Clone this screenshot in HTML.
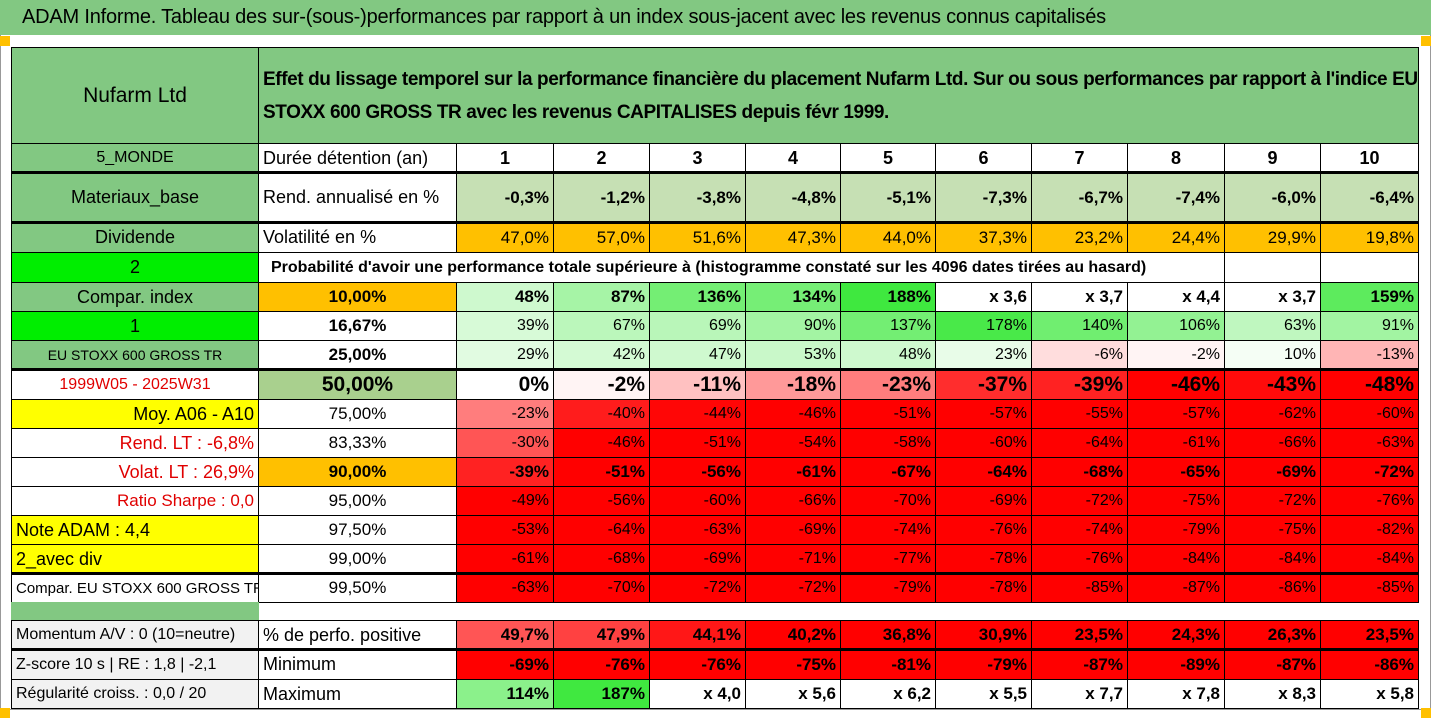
<!DOCTYPE html>
<html><head><meta charset="utf-8">
<style>
body{margin:0;width:1431px;height:718px;background:#fff;overflow:hidden;font-family:"Liberation Sans Narrow","Liberation Sans",sans-serif;position:relative}
#frame{position:absolute;left:0;top:0;width:1429px;height:709px;border:1px solid #999;border-top:none}
#title{position:absolute;left:0;top:0;width:1431px;height:35px;background:#82c882;font-size:20px;line-height:35px;padding-left:22px;box-sizing:border-box;color:#000;letter-spacing:-0.2px}
.c{position:absolute;box-sizing:border-box;border:1px solid #000;margin:0;overflow:hidden;white-space:nowrap;color:#000;display:flex;align-items:center}
.r{justify-content:flex-end;padding-right:4px}
.m{justify-content:center}
.l{justify-content:flex-start;padding-left:4px}
.b{font-weight:bold}
.sq{position:absolute;width:10px;height:10px;background:#ffc000}
</style></head><body>
<div id="frame"></div>
<div id="title">ADAM Informe. Tableau des sur-(sous-)performances par rapport à un index sous-jacent avec les revenus connus capitalisés</div>
<div class="sq" style="left:0;top:36px"></div>
<div class="sq" style="left:1421px;top:36px"></div>
<div class="sq" style="left:0;top:708px"></div>
<div class="sq" style="left:1421px;top:708px"></div>
<div id="grid"></div>
<script>
const years=["1","2","3","4","5","6","7","8","9","10"];
const rendAnn=["-0,3%","-1,2%","-3,8%","-4,8%","-5,1%","-7,3%","-6,7%","-7,4%","-6,0%","-6,4%"];
const volat=["47,0%","57,0%","51,6%","47,3%","44,0%","37,3%","23,2%","24,4%","29,9%","19,8%"];
const quantiles=["10,00%","16,67%","25,00%","50,00%","75,00%","83,33%","90,00%","95,00%","97,50%","99,00%","99,50%"];
const q10=["48%","87%","136%","134%","188%","x 3,6","x 3,7","x 4,4","x 3,7","159%"];
const q16=["39%","67%","69%","90%","137%","178%","140%","106%","63%","91%"];
const q25=["29%","42%","47%","53%","48%","23%","-6%","-2%","10%","-13%"];
const q50=["0%","-2%","-11%","-18%","-23%","-37%","-39%","-46%","-43%","-48%"];
const q75=["-23%","-40%","-44%","-46%","-51%","-57%","-55%","-57%","-62%","-60%"];
const q83=["-30%","-46%","-51%","-54%","-58%","-60%","-64%","-61%","-66%","-63%"];
const q90=["-39%","-51%","-56%","-61%","-67%","-64%","-68%","-65%","-69%","-72%"];
const q95=["-49%","-56%","-60%","-66%","-70%","-69%","-72%","-75%","-72%","-76%"];
const q975=["-53%","-64%","-63%","-69%","-74%","-76%","-74%","-79%","-75%","-82%"];
const q99=["-61%","-68%","-69%","-71%","-77%","-78%","-76%","-84%","-84%","-84%"];
const q995=["-63%","-70%","-72%","-72%","-79%","-78%","-85%","-87%","-86%","-85%"];
const posPerf=["49,7%","47,9%","44,1%","40,2%","36,8%","30,9%","23,5%","24,3%","26,3%","23,5%"];
const minimum=["-69%","-76%","-76%","-75%","-81%","-79%","-87%","-89%","-87%","-86%"];
const maximum=["114%","187%","x 4,0","x 5,6","x 6,2","x 5,5","x 7,7","x 7,8","x 8,3","x 5,8"];

const G=document.getElementById('grid');
const X=[11,258,456,553,649,745,840,935,1031,1127,1224,1320,1418];
function cell(x,y,w,h,txt,cls,bg,fs,extra){
  const d=document.createElement('div');
  d.className='c '+cls;
  d.style.cssText=`left:${x}px;top:${y}px;width:${w+1}px;height:${h+1}px;background:${bg};font-size:${fs}px;`+(extra||'');
  d.textContent=txt;
  G.appendChild(d);return d;
}
function num(s){return parseFloat(s.replace(',','.').replace('%',''));}
function heat(s){
  if(s.trim().startsWith('x'))return '#ffffff';
  const v=num(s);
  if(v<0){const t=Math.min(1,-v/45);const g=Math.round(255*(1-t));return `rgb(255,${g},${g})`;}
  const t=Math.min(1,v/200);return `rgb(${Math.round(255-204*t)},${Math.round(255-25*t)},${Math.round(255-204*t)})`;
}
function momColor(s){const v=num(s);const t=Math.min(1,Math.max(0,(52-v)/10));const g=Math.round(110*(1-t));return `rgb(255,${g},${g})`;}
const LG='#82c882';
let d=cell(11,47,247,96,'Nufarm Ltd','m',LG,21);
d=cell(258,47,1160,96,"Effet du lissage temporel sur la performance financière du placement Nufarm Ltd. Sur ou sous performances par rapport à l'indice EU STOXX 600 GROSS TR avec les revenus CAPITALISES depuis févr 1999.",'l b',LG,19,'white-space:normal;line-height:33px;letter-spacing:-0.4px');


function dataRow(y,h,label,lcls,lbg,lcol,lfs,mid,mcls,mbg,mfs,vals,colorFn,vcls,vfs,name){
  let a=cell(X[0],y,X[1]-X[0],h,label,lcls,lbg,lfs,lcol?`color:${lcol}`:'');
  
  
  if(mid!==null){let b=cell(X[1],y,X[2]-X[1],h,mid,mcls,mbg,mfs);
    
    }
  vals.forEach((v,i)=>{
    let c=cell(X[i+2],y,X[i+3]-X[i+2],h,v,vcls,colorFn(v,i),vfs);
    
    
  });
}
const W=()=>'#fff';
dataRow(143,29,'5_MONDE','m',LG,null,16,'Durée détention (an)','l','#fff',18,years,W,'m b',18,'holding-years');
dataRow(172,50,'Materiaux_base','m',LG,null,18,'Rend. annualisé en %','l','#fff',18,rendAnn,()=>'#c6e0b4','r b',17,'annual-return');
dataRow(222,30,'Dividende','m',LG,null,18,'Volatilité en %','l','#fff',18,volat,()=>'#ffc000','r',17,'volatility');
d=cell(11,252,247,30,'2','m','#00ee00',18);
d=cell(258,252,966,30,"Probabilité d'avoir une performance totale supérieure à (histogramme constaté sur les 4096 dates tirées au hasard)",'l b','#fff',16,'padding-left:12px');

d=cell(1224,252,96,30,'','m','#fff',16);
d=cell(1320,252,98,30,'','m','#fff',16);

const qRows=[
 [282,29,'Compar. index','m',LG,null,18,q10,'r b',17,'#ffc000','m b'],
 [311,29,'1','m','#00ee00',null,18,q16,'r',16,'#fff','m b'],
 [340,29,'EU STOXX 600 GROSS TR','m',LG,null,14,q25,'r',16,'#fff','m b'],
 [369,30,'1999W05 - 2025W31','m','#fff','#e00000',16,q50,'r b',21,'#a9d08e','m b'],
 [399,29,'Moy. A06 - A10','r','#ffff00',null,18,q75,'r',16,'#fff','m'],
 [428,29,'Rend. LT :   -6,8%','r','#fff','#e00000',18,q83,'r',16,'#fff','m'],
 [457,29,'Volat. LT :   26,9%','r','#fff','#e00000',18,q90,'r b',17,'#ffc000','m b'],
 [486,29,'Ratio Sharpe :    0,0','r','#fff','#e00000',17,q95,'r',16,'#fff','m'],
 [515,29,'Note ADAM : 4,4','l','#ffff00',null,18,q975,'r',16,'#fff','m'],
 [544,29,'2_avec div','l','#ffff00',null,18,q99,'r',16,'#fff','m'],
 [573,29,'  Compar. EU STOXX 600 GROSS TR','l','#fff',null,15,q995,'r',16,'#fff','m']
];
qRows.forEach((r,k)=>{
  dataRow(r[0],r[1],r[2],r[3],r[4],r[5],r[6],quantiles[k],r[11],r[10],k==3?21:17,r[7],heat,r[8],r[9],'quantile-'+k);
});
d=cell(11,602,247,18,'','m',LG,10,'border:none');
dataRow(620,29,'Momentum A/V : 0 (10=neutre)','l','#f2f2f2',null,16,'% de perfo. positive','l','#fff',18,posPerf,momColor,'r b',17,'positive-share');
dataRow(649,30,'Z-score 10 s | RE : 1,8 | -2,1','l','#f2f2f2',null,16,'Minimum','l','#fff',18,minimum,()=>'#ff0000','r b',17,'minimum');
dataRow(679,29,'Régularité croiss. : 0,0 / 20','l','#f2f2f2',null,16,'Maximum','l','#fff',18,maximum,heat,'r b',17,'maximum');
[172,222,369,573,649].forEach(y=>{const s=document.createElement('div');s.style.cssText=`position:absolute;left:11px;top:${y-1}px;width:1408px;height:3px;background:#000`;


G.appendChild(s);});
</script>
</body></html>
